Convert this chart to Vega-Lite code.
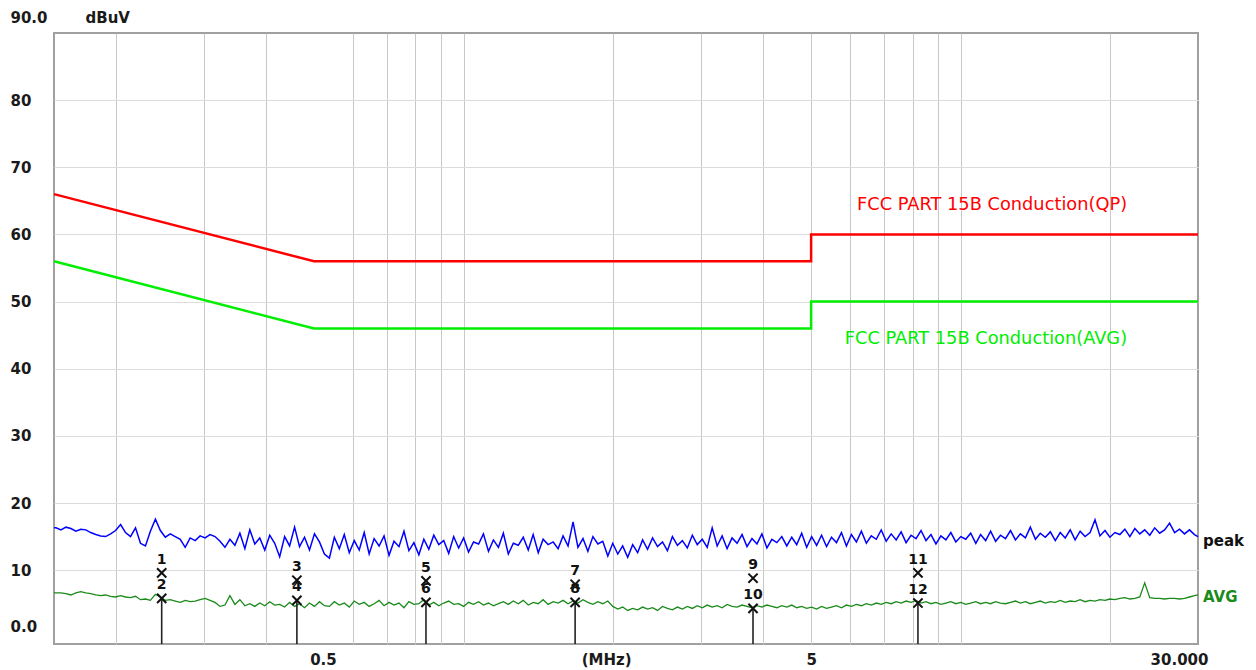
{
 "$schema": "https://vega.github.io/schema/vega-lite/v6.json",
 "width": 1144, "height": 611,
 "autosize": "none",
 "padding": {"left": 54, "top": 33, "right": 58, "bottom": 26},
 "background": "white",
 "config": {"view": {"stroke": "#a0a0a0", "strokeWidth": 2}, "font": "DejaVu Sans"},
 "datasets": {
  "qp": [{"o":1,"f":0.15,"v":66},{"o":2,"f":0.5,"v":56},{"o":3,"f":5,"v":56},{"o":4,"f":5,"v":60},{"o":5,"f":30,"v":60}],
  "avl": [{"o":1,"f":0.15,"v":56},{"o":2,"f":0.5,"v":46},{"o":3,"f":5,"v":46},{"o":4,"f":5,"v":50},{"o":5,"f":30,"v":50}],
  "limlab": [{"lim":"QP","f":21.6,"v":64.4,"t":"FCC PART 15B Conduction(QP)"},{"lim":"AVG","f":21.6,"v":44.4,"t":"FCC PART 15B Conduction(AVG)"}],
  "tracelab": [{"tr":"peak","f":30,"v":14.3,"t":"peak"},{"tr":"AVG","f":30,"v":6.0,"t":"AVG"}],
  "markers": [
   {"n":"1","det":"QP","f":0.247,"v":9.6},{"n":"2","det":"AV","f":0.247,"v":5.8},
   {"n":"3","det":"QP","f":0.462,"v":8.5},{"n":"4","det":"AV","f":0.462,"v":5.5},
   {"n":"5","det":"QP","f":0.84,"v":8.4},{"n":"6","det":"AV","f":0.84,"v":5.2},
   {"n":"7","det":"QP","f":1.676,"v":7.9},{"n":"8","det":"AV","f":1.676,"v":5.2},
   {"n":"9","det":"QP","f":3.82,"v":8.8},{"n":"10","det":"AV","f":3.82,"v":4.3},
   {"n":"11","det":"QP","f":8.2,"v":9.6},{"n":"12","det":"AV","f":8.2,"v":5.1}
  ],
  "trace": [
   {"f":0.15,"pk":16.3,"av":6.6},{"f":0.1514,"pk":16.3,"av":6.6},{"f":0.1549,"pk":16.0,"av":6.6},{"f":0.1585,"pk":16.4,"av":6.5},
   {"f":0.1622,"pk":16.2,"av":6.3},{"f":0.166,"pk":15.8,"av":6.6},{"f":0.1698,"pk":16.1,"av":6.8},{"f":0.1738,"pk":16.0,"av":6.6},
   {"f":0.1778,"pk":15.6,"av":6.5},{"f":0.182,"pk":15.3,"av":6.3},{"f":0.1862,"pk":15.1,"av":6.2},{"f":0.1905,"pk":15.0,"av":6.3},
   {"f":0.195,"pk":15.4,"av":6.1},{"f":0.1995,"pk":15.9,"av":6.0},{"f":0.2042,"pk":16.8,"av":6.2},{"f":0.2089,"pk":15.6,"av":6.0},
   {"f":0.2138,"pk":15.0,"av":5.9},{"f":0.2188,"pk":16.3,"av":6.1},{"f":0.2239,"pk":14.0,"av":5.6},{"f":0.2291,"pk":13.6,"av":5.7},
   {"f":0.2344,"pk":15.8,"av":5.5},{"f":0.2399,"pk":17.6,"av":6.4},{"f":0.2455,"pk":15.9,"av":6.0},{"f":0.2512,"pk":14.9,"av":5.5},
   {"f":0.257,"pk":15.4,"av":5.6},{"f":0.263,"pk":15.0,"av":5.4},{"f":0.2692,"pk":14.6,"av":5.2},{"f":0.2754,"pk":13.4,"av":5.5},
   {"f":0.2818,"pk":14.8,"av":5.3},{"f":0.2884,"pk":14.4,"av":5.4},{"f":0.2951,"pk":15.1,"av":5.6},{"f":0.302,"pk":14.8,"av":5.8},
   {"f":0.309,"pk":15.3,"av":5.5},{"f":0.3162,"pk":15.0,"av":5.2},{"f":0.3236,"pk":14.3,"av":4.6},{"f":0.3311,"pk":13.4,"av":4.8},
   {"f":0.3388,"pk":14.6,"av":6.2},{"f":0.3467,"pk":13.7,"av":4.9},{"f":0.3548,"pk":15.5,"av":5.6},{"f":0.3631,"pk":13.2,"av":4.7},
   {"f":0.3715,"pk":16.0,"av":5.0},{"f":0.3802,"pk":13.9,"av":4.6},{"f":0.389,"pk":14.8,"av":5.1},{"f":0.3981,"pk":13.0,"av":4.7},
   {"f":0.4074,"pk":15.2,"av":5.3},{"f":0.4169,"pk":14.0,"av":4.8},{"f":0.4266,"pk":12.0,"av":4.9},{"f":0.4365,"pk":15.0,"av":4.5},
   {"f":0.4467,"pk":13.6,"av":5.2},{"f":0.4571,"pk":16.4,"av":4.6},{"f":0.4677,"pk":13.5,"av":5.0},{"f":0.4786,"pk":14.9,"av":4.4},
   {"f":0.4898,"pk":13.0,"av":5.1},{"f":0.5012,"pk":15.4,"av":4.6},{"f":0.5129,"pk":14.2,"av":5.3},{"f":0.5248,"pk":12.4,"av":4.7},
   {"f":0.537,"pk":11.8,"av":4.6},{"f":0.5495,"pk":14.9,"av":5.3},{"f":0.5623,"pk":13.2,"av":4.8},{"f":0.5754,"pk":15.3,"av":5.1},
   {"f":0.5888,"pk":12.6,"av":4.5},{"f":0.6026,"pk":14.4,"av":5.4},{"f":0.6166,"pk":13.0,"av":4.9},{"f":0.631,"pk":15.6,"av":5.2},
   {"f":0.6457,"pk":12.4,"av":4.6},{"f":0.6607,"pk":14.7,"av":5.0},{"f":0.6761,"pk":13.6,"av":5.5},{"f":0.6918,"pk":15.1,"av":4.7},
   {"f":0.7079,"pk":12.2,"av":5.2},{"f":0.7244,"pk":14.3,"av":4.8},{"f":0.7413,"pk":13.5,"av":5.1},{"f":0.7586,"pk":15.8,"av":4.4},
   {"f":0.7762,"pk":12.9,"av":5.3},{"f":0.7943,"pk":14.1,"av":4.9},{"f":0.8128,"pk":12.3,"av":5.0},{"f":0.8318,"pk":14.6,"av":5.6},
   {"f":0.8511,"pk":13.1,"av":4.8},{"f":0.871,"pk":15.2,"av":5.2},{"f":0.8913,"pk":13.8,"av":4.7},{"f":0.912,"pk":14.4,"av":5.1},
   {"f":0.9333,"pk":12.5,"av":5.4},{"f":0.955,"pk":15.0,"av":4.9},{"f":0.9772,"pk":13.3,"av":5.0},{"f":1.0,"pk":14.8,"av":4.6},
   {"f":1.023,"pk":12.7,"av":5.2},{"f":1.047,"pk":14.2,"av":4.9},{"f":1.072,"pk":13.9,"av":5.3},{"f":1.096,"pk":15.4,"av":4.8},
   {"f":1.122,"pk":12.8,"av":5.1},{"f":1.148,"pk":14.5,"av":4.7},{"f":1.175,"pk":13.4,"av":5.0},{"f":1.202,"pk":15.5,"av":5.3},
   {"f":1.23,"pk":12.4,"av":4.9},{"f":1.259,"pk":14.0,"av":5.4},{"f":1.288,"pk":13.7,"av":5.0},{"f":1.318,"pk":14.9,"av":5.5},
   {"f":1.349,"pk":13.0,"av":4.8},{"f":1.38,"pk":15.3,"av":5.2},{"f":1.413,"pk":12.6,"av":5.0},{"f":1.445,"pk":14.6,"av":5.6},
   {"f":1.479,"pk":13.8,"av":4.9},{"f":1.514,"pk":14.2,"av":5.3},{"f":1.549,"pk":13.2,"av":5.1},{"f":1.585,"pk":15.1,"av":5.5},
   {"f":1.622,"pk":13.6,"av":5.0},{"f":1.66,"pk":17.2,"av":5.4},{"f":1.698,"pk":13.4,"av":5.1},{"f":1.738,"pk":14.7,"av":5.6},
   {"f":1.778,"pk":12.8,"av":5.2},{"f":1.82,"pk":15.0,"av":4.9},{"f":1.862,"pk":13.9,"av":5.3},{"f":1.905,"pk":14.3,"av":5.0},
   {"f":1.95,"pk":12.1,"av":5.4},{"f":1.995,"pk":14.0,"av":4.6},{"f":2.042,"pk":12.4,"av":4.2},{"f":2.089,"pk":13.6,"av":4.5},
   {"f":2.138,"pk":11.9,"av":4.0},{"f":2.188,"pk":13.8,"av":4.3},{"f":2.239,"pk":12.6,"av":4.1},{"f":2.291,"pk":14.5,"av":4.5},
   {"f":2.344,"pk":13.1,"av":4.2},{"f":2.399,"pk":14.8,"av":4.4},{"f":2.455,"pk":13.5,"av":4.0},{"f":2.512,"pk":14.2,"av":4.6},
   {"f":2.57,"pk":12.9,"av":4.3},{"f":2.63,"pk":15.0,"av":4.1},{"f":2.692,"pk":13.7,"av":4.5},{"f":2.754,"pk":14.4,"av":4.2},
   {"f":2.818,"pk":13.3,"av":4.6},{"f":2.884,"pk":15.2,"av":4.3},{"f":2.951,"pk":13.8,"av":4.7},{"f":3.02,"pk":14.6,"av":4.4},
   {"f":3.09,"pk":13.4,"av":4.8},{"f":3.162,"pk":16.3,"av":4.5},{"f":3.236,"pk":13.6,"av":4.7},{"f":3.311,"pk":15.1,"av":4.4},
   {"f":3.388,"pk":13.2,"av":4.9},{"f":3.467,"pk":14.8,"av":4.6},{"f":3.548,"pk":14.0,"av":4.5},{"f":3.631,"pk":15.3,"av":4.8},
   {"f":3.715,"pk":13.5,"av":4.6},{"f":3.802,"pk":14.7,"av":4.4},{"f":3.89,"pk":13.9,"av":4.7},{"f":3.981,"pk":15.4,"av":4.5},
   {"f":4.074,"pk":13.3,"av":4.8},{"f":4.169,"pk":14.6,"av":4.6},{"f":4.266,"pk":14.1,"av":4.4},{"f":4.365,"pk":15.0,"av":4.7},
   {"f":4.467,"pk":13.6,"av":4.5},{"f":4.571,"pk":14.9,"av":4.8},{"f":4.677,"pk":13.8,"av":4.4},{"f":4.786,"pk":15.5,"av":4.6},
   {"f":4.898,"pk":13.4,"av":4.3},{"f":5.012,"pk":15.0,"av":4.5},{"f":5.129,"pk":13.7,"av":4.2},{"f":5.248,"pk":15.2,"av":4.6},
   {"f":5.37,"pk":13.5,"av":4.3},{"f":5.495,"pk":14.9,"av":4.5},{"f":5.623,"pk":14.1,"av":4.7},{"f":5.754,"pk":15.6,"av":4.4},
   {"f":5.888,"pk":13.6,"av":4.8},{"f":6.026,"pk":15.3,"av":4.6},{"f":6.166,"pk":14.2,"av":4.9},{"f":6.31,"pk":15.8,"av":4.7},
   {"f":6.457,"pk":14.0,"av":5.0},{"f":6.607,"pk":15.1,"av":4.8},{"f":6.761,"pk":14.6,"av":5.1},{"f":6.918,"pk":16.0,"av":4.9},
   {"f":7.079,"pk":14.3,"av":5.2},{"f":7.244,"pk":15.4,"av":5.0},{"f":7.413,"pk":14.5,"av":5.3},{"f":7.586,"pk":15.7,"av":5.1},
   {"f":7.762,"pk":14.1,"av":5.4},{"f":7.943,"pk":15.2,"av":5.2},{"f":8.128,"pk":14.7,"av":5.5},{"f":8.318,"pk":15.9,"av":5.1},
   {"f":8.511,"pk":14.4,"av":5.3},{"f":8.71,"pk":15.3,"av":5.0},{"f":8.913,"pk":13.9,"av":5.2},{"f":9.12,"pk":15.1,"av":4.9},
   {"f":9.333,"pk":14.5,"av":5.1},{"f":9.55,"pk":15.6,"av":5.3},{"f":9.772,"pk":14.2,"av":5.0},{"f":10.0,"pk":15.0,"av":5.2},
   {"f":10.23,"pk":14.6,"av":4.9},{"f":10.47,"pk":15.5,"av":5.1},{"f":10.72,"pk":14.0,"av":5.3},{"f":10.96,"pk":15.3,"av":5.0},
   {"f":11.22,"pk":14.4,"av":5.2},{"f":11.48,"pk":15.8,"av":5.0},{"f":11.75,"pk":14.3,"av":5.3},{"f":12.02,"pk":15.2,"av":5.1},
   {"f":12.3,"pk":14.7,"av":5.0},{"f":12.59,"pk":15.9,"av":5.2},{"f":12.88,"pk":14.5,"av":5.4},{"f":13.18,"pk":15.4,"av":5.1},
   {"f":13.49,"pk":14.8,"av":5.3},{"f":13.8,"pk":16.4,"av":5.0},{"f":14.13,"pk":14.6,"av":5.2},{"f":14.45,"pk":15.5,"av":5.4},
   {"f":14.79,"pk":14.9,"av":5.1},{"f":15.14,"pk":15.7,"av":5.3},{"f":15.49,"pk":14.4,"av":5.2},{"f":15.85,"pk":15.6,"av":5.5},
   {"f":16.22,"pk":14.8,"av":5.2},{"f":16.6,"pk":16.0,"av":5.4},{"f":16.98,"pk":14.5,"av":5.3},{"f":17.38,"pk":15.8,"av":5.6},
   {"f":17.78,"pk":15.0,"av":5.3},{"f":18.2,"pk":15.6,"av":5.5},{"f":18.62,"pk":17.5,"av":5.4},{"f":19.05,"pk":15.1,"av":5.6},
   {"f":19.5,"pk":15.9,"av":5.5},{"f":19.95,"pk":14.9,"av":5.7},{"f":20.42,"pk":15.6,"av":5.6},{"f":20.89,"pk":15.3,"av":5.8},
   {"f":21.38,"pk":16.1,"av":5.9},{"f":21.88,"pk":15.0,"av":5.7},{"f":22.39,"pk":16.2,"av":5.8},{"f":22.91,"pk":15.4,"av":6.0},
   {"f":23.44,"pk":16.0,"av":8.1},{"f":23.99,"pk":15.2,"av":5.9},{"f":24.55,"pk":16.3,"av":5.8},{"f":25.12,"pk":15.5,"av":5.8},
   {"f":25.7,"pk":16.0,"av":5.7},{"f":26.3,"pk":17.0,"av":5.8},{"f":26.92,"pk":15.6,"av":5.8},{"f":27.54,"pk":16.1,"av":5.7},
   {"f":28.18,"pk":15.4,"av":5.8},{"f":28.84,"pk":16.0,"av":6.0},{"f":29.51,"pk":15.3,"av":6.2},{"f":30.0,"pk":15.0,"av":6.3}
  ]
 },
 "layer": [
  {
   "data": {"name": "qp"},
   "mark": {"type": "line", "color": "#ff0000", "strokeWidth": 2.5},
   "encoding": {
    "x": {"field": "f", "type": "quantitative", "title": null,
     "scale": {"type": "log", "domain": [0.15, 30], "nice": false},
     "axis": {
      "values": [0.2,0.3,0.4,0.5,0.6,0.7,0.8,0.9,1,1.935,2,3,4,5,6,7,8,9,10,20,30],
      "labelExpr": "datum.value == 0.5 ? '0.5' : datum.value == 5 ? '5' : datum.value == 30 ? '30.000' : datum.value == 1.935 ? '(MHz)' : ''",
      "title": null, "domain": false, "ticks": false, "labelPadding": 8,
      "labelOverlap": false, "labelBound": false, "labelFlush": false,
      "labelFont": "DejaVu Sans", "labelFontSize": 15, "labelFontWeight": "bold", "labelColor": "#1a1a1a",
      "labelOffset": {"condition": [{"test": "datum.value == 0.5", "value": 9}, {"test": "datum.value == 30", "value": -19}], "value": 0},
      "grid": true, "gridColor": "#c8c8c8", "gridWidth": 1,
      "gridOpacity": {"condition": {"test": "datum.value == 0.5 || datum.value == 1.935 || datum.value == 30", "value": 0}, "value": 1}
     }
    },
    "y": {"field": "v", "type": "quantitative", "title": "dBuV",
     "scale": {"domain": [-1, 90], "nice": false, "zero": false},
     "axis": {
      "values": [0,10,20,30,40,50,60,70,80,90],
      "labelExpr": "datum.value == 90 ? '90.0' : datum.value == 0 ? '0.0' : datum.label",
      "title": "dBuV", "titleAngle": 0, "titleX": 31, "titleY": -16, "titleAlign": "left", "titleBaseline": "middle",
      "titleFont": "DejaVu Sans", "titleFontSize": 15, "titleFontWeight": "bold", "titleColor": "#1a1a1a",
      "domain": false, "ticks": false, "labelAlign": "left", "labelPadding": 44, "labelBaseline": "middle",
      "labelFont": "DejaVu Sans", "labelFontSize": 15, "labelFontWeight": "bold", "labelColor": "#1a1a1a",
      "labelOffset": {"condition": [{"test": "datum.value == 90", "value": -16}, {"test": "datum.value == 0", "value": -11}], "value": 0},
      "grid": true, "gridColor": "#dcdcdc", "gridWidth": 1,
      "gridOpacity": {"condition": {"test": "datum.value == 0 || datum.value == 90", "value": 0}, "value": 1}
     }
    },
    "order": {"field": "o", "type": "quantitative"}
   }
  },
  {
   "data": {"name": "avl"},
   "mark": {"type": "line", "color": "#00ee00", "strokeWidth": 2.5},
   "encoding": {
    "x": {"field": "f", "type": "quantitative", "title": null},
    "y": {"field": "v", "type": "quantitative", "title": "dBuV"},
    "order": {"field": "o", "type": "quantitative"}
   }
  },
  {
   "data": {"name": "trace"},
   "mark": {"type": "line", "color": "#0000ff", "strokeWidth": 1.5},
   "encoding": {
    "x": {"field": "f", "type": "quantitative", "title": null},
    "y": {"field": "pk", "type": "quantitative", "title": "dBuV"}
   }
  },
  {
   "data": {"name": "trace"},
   "mark": {"type": "line", "color": "#1a8a1a", "strokeWidth": 1.3},
   "encoding": {
    "x": {"field": "f", "type": "quantitative", "title": null},
    "y": {"field": "av", "type": "quantitative", "title": "dBuV"}
   }
  },
  {
   "data": {"name": "markers"},
   "transform": [{"filter": "datum.det == 'AV'"}],
   "mark": {"type": "rule", "color": "#222222", "strokeWidth": 1.6},
   "encoding": {
    "x": {"field": "f", "type": "quantitative", "title": null},
    "y": {"field": "v", "type": "quantitative", "title": "dBuV"},
    "y2": {"datum": -1}
   }
  },
  {
   "data": {"name": "markers"},
   "mark": {"type": "point", "shape": "M-1,-1L1,1M1,-1L-1,1", "filled": false, "stroke": "#111111", "strokeWidth": 2, "size": 85, "opacity": 1},
   "encoding": {
    "x": {"field": "f", "type": "quantitative", "title": null},
    "y": {"field": "v", "type": "quantitative", "title": "dBuV"}
   }
  },
  {
   "data": {"name": "markers"},
   "mark": {"type": "text", "font": "DejaVu Sans", "fontSize": 14, "fontWeight": "bold", "color": "#111111", "dy": -13, "align": "center", "baseline": "middle"},
   "encoding": {
    "x": {"field": "f", "type": "quantitative", "title": null},
    "y": {"field": "v", "type": "quantitative", "title": "dBuV"},
    "text": {"field": "n"}
   }
  },
  {
   "data": {"name": "limlab"},
   "transform": [{"filter": "datum.lim == 'QP'"}],
   "mark": {"type": "text", "font": "DejaVu Sans", "fontSize": 17.8, "color": "#ff0000", "align": "right", "baseline": "middle"},
   "encoding": {
    "x": {"field": "f", "type": "quantitative", "title": null},
    "y": {"field": "v", "type": "quantitative", "title": "dBuV"},
    "text": {"field": "t"}
   }
  },
  {
   "data": {"name": "limlab"},
   "transform": [{"filter": "datum.lim == 'AVG'"}],
   "mark": {"type": "text", "font": "DejaVu Sans", "fontSize": 17.8, "color": "#00ee00", "align": "right", "baseline": "middle"},
   "encoding": {
    "x": {"field": "f", "type": "quantitative", "title": null},
    "y": {"field": "v", "type": "quantitative", "title": "dBuV"},
    "text": {"field": "t"}
   }
  },
  {
   "data": {"name": "tracelab"},
   "transform": [{"filter": "datum.tr == 'peak'"}],
   "mark": {"type": "text", "font": "DejaVu Sans", "fontSize": 15, "fontWeight": "bold", "color": "#111111", "align": "left", "baseline": "middle", "dx": 5},
   "encoding": {
    "x": {"field": "f", "type": "quantitative", "title": null},
    "y": {"field": "v", "type": "quantitative", "title": "dBuV"},
    "text": {"field": "t"}
   }
  },
  {
   "data": {"name": "tracelab"},
   "transform": [{"filter": "datum.tr == 'AVG'"}],
   "mark": {"type": "text", "font": "DejaVu Sans", "fontSize": 15, "fontWeight": "bold", "color": "#1a8a1a", "align": "left", "baseline": "middle", "dx": 5},
   "encoding": {
    "x": {"field": "f", "type": "quantitative", "title": null},
    "y": {"field": "v", "type": "quantitative", "title": "dBuV"},
    "text": {"field": "t"}
   }
  }
 ]
}
